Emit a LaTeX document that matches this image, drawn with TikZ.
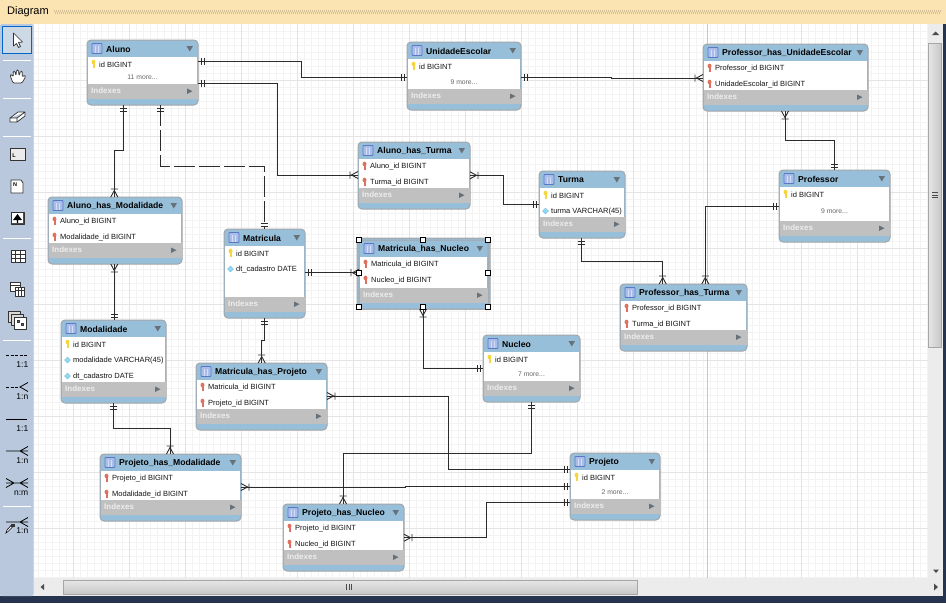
\documentclass[tikz,border=0pt]{standalone}
\usepackage{fontspec}
\setmainfont{Liberation Sans}
\definecolor{hdrblue}{HTML}{98BFD9}
\definecolor{tblborder}{HTML}{A3A6A8}
\definecolor{idxgrey}{HTML}{C0C0C0}
\definecolor{toolbg}{HTML}{B9C8DC}
\definecolor{navy}{HTML}{26344F}
\definecolor{cream}{HTML}{FBE3B2}
\definecolor{gridmin}{HTML}{F3F3F3}
\definecolor{gridmaj}{HTML}{E4E4E4}
\definecolor{barbg}{HTML}{ECECEC}
\definecolor{relc}{HTML}{2B2B2B}
\definecolor{triangle}{HTML}{66717A}
\definecolor{iconfill}{HTML}{A9BDEB}
\definecolor{iconline}{HTML}{5A78C4}
\definecolor{fkred}{HTML}{E0705E}
\definecolor{pkyellow}{HTML}{F5D63C}
\newcommand{\mdots}{...}
\pgfdeclarearrow{name=erOne,
  setup code={\pgfarrowssettipend{0pt}\pgfarrowssetlineend{0pt}\pgfarrowssetbackend{-7pt}\pgfarrowssetvisualbackend{-7pt}},
  drawing code={\pgfsetdash{}{0pt}\pgfsetbuttcap\pgfsetlinewidth{0.9pt}%
    \pgfpathmoveto{\pgfqpoint{-3pt}{-3.5pt}}\pgfpathlineto{\pgfqpoint{-3pt}{3.5pt}}%
    \pgfpathmoveto{\pgfqpoint{-6pt}{-3.5pt}}\pgfpathlineto{\pgfqpoint{-6pt}{3.5pt}}%
    \pgfusepathqstroke}}
\pgfdeclarearrow{name=erMany,
  setup code={\pgfarrowssettipend{0pt}\pgfarrowssetlineend{0pt}\pgfarrowssetbackend{-9pt}\pgfarrowssetvisualbackend{-9pt}},
  drawing code={\pgfsetdash{}{0pt}\pgfsetbuttcap\pgfsetlinewidth{0.9pt}%
    \pgfpathmoveto{\pgfqpoint{-8pt}{-3.5pt}}\pgfpathlineto{\pgfqpoint{-8pt}{3.5pt}}%
    \pgfpathmoveto{\pgfqpoint{0pt}{-3.5pt}}\pgfpathlineto{\pgfqpoint{-6.5pt}{0pt}}\pgfpathlineto{\pgfqpoint{0pt}{3.5pt}}%
    \pgfusepathqstroke}}
\tikzset{
  tablebox/.style={draw=tblborder,fill=hdrblue,line width=1pt,rounded corners=4pt,inner sep=0pt,outer sep=0pt,anchor=north west},
  titletext/.style={font=\fontsize{8.6}{10}\selectfont\bfseries,anchor=west,inner sep=0pt,text=black},
  rowtext/.style={font=\fontsize{7.5}{9}\selectfont,anchor=west,inner sep=0pt,text=black!92},
  moretext/.style={font=\fontsize{6.8}{8}\selectfont,inner sep=0pt,text=black!60},
  idxtext/.style={font=\fontsize{8}{10}\selectfont\bfseries,anchor=west,inner sep=0pt,text=white!93!black},
  rel/.style={draw=relc,line width=1pt,line cap=butt,line join=miter},
  dashrel/.style={rel,dash pattern=on 21pt off 4pt},
  handle/.style={draw=black,fill=white,line width=1pt,inner sep=0pt,minimum size=5.5pt,rectangle,outer sep=0pt},
  tooltext/.style={font=\fontsize{8.5}{10}\selectfont,inner sep=0pt,text=black,anchor=east},
  ico/.style={draw=black!80,line width=0.7pt,line join=round},
}
\newcommand{\keyF}[3]{\fill[#3] (#1,#2-2) circle[x radius=2,y radius=2.3]; \fill[#3] (#1-1,#2-1) rectangle (#1+1,#2+3.5);}
\newcommand{\erkindk}[2]{\keyF{#1}{#2}{pkyellow}}
\newcommand{\erkindf}[2]{\keyF{#1}{#2}{fkred}}
\newcommand{\erkindc}[2]{\fill[cyan!45!white,draw=cyan!45!gray,line width=0.3pt] (#1-3,#2) -- (#1,#2-3) -- (#1+3,#2) -- (#1,#2+3) -- cycle;}
\newcommand{\ertable}[8]{%
  \pgfmathsetmacro\tw{#4-#2}\pgfmathsetmacro\th{#5-#3}\pgfmathsetmacro\tcx{(#2+#4)/2}%
  \node[tablebox,minimum width=\tw pt,minimum height=\th pt] (#1) at (#2,#3) {};
  \fill[white] (#2+1,#3+17) rectangle (#4-1,#5-21);
  \fill[idxgrey] (#2+0.5,#5-21) rectangle (#4-0.5,#5-6);
  \draw[draw=iconline,fill=iconfill,line width=0.8pt,rounded corners=0.8pt] (#2+5,#3+3.5) rectangle (#2+15,#3+13.5);
  \draw[white!75!iconline,line width=0.5pt] (#2+8.3,#3+6) -- (#2+8.3,#3+13) (#2+11.6,#3+6) -- (#2+11.6,#3+13);
  \node[titletext] (#1-title) at (#2+19,#3+9) {#6};
  \fill[triangle] (#4-11.5,#3+6) -- (#4-5,#3+6) -- (#4-8.2,#3+11.5) -- cycle;
  \node[idxtext] (#1-idx) at (#2+4,#5-14) {Indexes};
  \fill[triangle] (#4-11,#5-16.5) -- (#4-5.5,#5-13.8) -- (#4-11,#5-11) -- cycle;
  \foreach \k/\t [count=\n from 0] in {#8} {
    \pgfmathsetmacro\ry{#3+24+#7*\n}
    \if m\k
      \node[moretext,name=#1-r\n] at (\tcx,\ry) {\t};
    \else
      \csname erkind\k\endcsname{#2+6.5}{\ry}
      \node[rowtext,name=#1-r\n] at (#2+12,\ry+0.6) {\t};
    \fi
  }
}
\begin{document}
\begin{tikzpicture}[x=1pt,y=-1pt]
\useasboundingbox (0,0) rectangle (946,603);
% window
\fill[navy] (0,0) rectangle (946,603);
\fill[barbg] (0,24) rectangle (943,596);
\fill[white] (34,24) rectangle (928,578);
\foreach \x in {31,38,...,927} \draw[gridmin,line width=0.8pt] (\x,24) -- (\x,578);
\foreach \y in {31,38,...,577} \draw[gridmin,line width=0.8pt] (34,\y) -- (928,\y);
\foreach \x in {73,129,...,913} \draw[gridmaj,line width=0.9pt] (\x,24) -- (\x,578);
\foreach \y in {80,136,...,577} \draw[gridmaj,line width=0.9pt] (34,\y) -- (928,\y);
\draw[black!22,line width=1pt] (707,24) -- (707,578);
% title bar
\fill[cream] (0,0) rectangle (946,24);
\draw[cream!85!black,line width=1.1pt,dash pattern=on 1pt off 1pt] (54,11) -- (941,11);
\draw[cream!85!black,line width=1.1pt,dash pattern=on 1pt off 1pt,dash phase=1pt] (54,13) -- (941,13);
\node[anchor=west,inner sep=0pt,font=\fontsize{11}{13}\selectfont,text=black] (diagramtitle) at (7,12) {Diagram};
% tool bar
\fill[toolbg,rounded corners=2pt] (0,24) rectangle (33.5,596);
\draw[blue!50!cyan!80!black,fill=toolbg!70!white,line width=1pt] (2.5,26.5) rectangle (31.5,53);
\foreach \y in {60,98,136,238,340,506} \draw[white,line width=1pt] (3,\y) -- (31,\y);
\draw[ico,fill=white] (13.5,33) -- (13.5,46) -- (16.5,43.5) -- (18.5,47.5) -- (20.5,46.5) -- (18.5,42.5) -- (22.5,42) -- cycle;
\draw[ico,fill=white,rounded corners=1.2pt] (13,83) -- (10,75) -- (12,74.5) -- (13.5,77) -- (13,71.5) -- (15,71) -- (16,76) -- (16.5,70) -- (18.5,70) -- (19,76) -- (20.5,71) -- (22.5,71.5) -- (22,77) -- (25,75) -- (25.5,77) -- (22,83) -- cycle;
\draw[ico,fill=white] (10,118) -- (18,112) -- (25,112) -- (25,116) -- (17,122) -- (10,122) -- cycle (10,118) -- (17,118) -- (25,112) (17,118) -- (17,122);
\draw[ico,fill=white!92!black] (10,148) rectangle (25,160);
\draw[ico,fill=white] (11,180) -- (21,180) -- (23,183) -- (23,193) -- (11,193) -- cycle;
\node[inner sep=0pt,font=\fontsize{5.5}{6}\selectfont\bfseries] (iconL) at (14,155.5) {L};
\node[inner sep=0pt,font=\fontsize{5.5}{6}\selectfont\bfseries] (iconN) at (15,185) {N};
\draw[ico,fill=black!70,line width=0.9pt] (11,212) rectangle (24,224);
\fill[white] (11.7,212.7) rectangle (23.3,223.3);
\fill[black] (17.5,214) -- (22,220) -- (18.2,220) -- (18.2,223) -- (16.8,223) -- (16.8,220) -- (13,220) -- cycle;
\draw[ico,fill=white] (11,250) rectangle (25,262) (11,254) -- (25,254) (11,258) -- (25,258) (15.7,250) -- (15.7,262) (20.3,250) -- (20.3,262);
\draw[ico,fill=white] (10,282) rectangle (20,291) (10,285) -- (20,285);
\draw[ico,fill=white] (15,287) rectangle (24,296) (15,290) -- (24,290) (18,287) -- (18,296) (21,287) -- (21,296);
\draw[ico,fill=white!85!black] (8,311) rectangle (20,322);
\draw[ico,fill=white!85!black] (11,314) rectangle (23,325);
\draw[ico,fill=white] (14,317) rectangle (26,329);
\draw[ico,fill=black!60] (17,320) rectangle (19,322) (21,323) rectangle (23,325);
\foreach \lab/\ly/\ty [count=\i] in {1:1/355/365,1:n/387/397,1:1/419/429,1:n/451/461,n:m/483/493,1:n/522/531} {
  \node[tooltext,name=rel\i] at (28.5,\ty) {\lab};
}
\draw[black,line width=0.8pt,dash pattern=on 3pt off 1.5pt] (6,355) -- (27,355);
\draw[black,line width=0.8pt,dash pattern=on 3pt off 1.5pt] (6,387) -- (20,387);
\draw[black,line width=0.8pt] (28,382.5) -- (20,387) -- (28,391.5);
\draw[black,line width=0.8pt] (6,419) -- (27,419);
\draw[black,line width=0.8pt] (6,451) -- (28,451) (28,446.5) -- (20,451) -- (28,455.5);
\draw[black,line width=0.8pt] (6,483) -- (28,483) (28,478.5) -- (20,483) -- (28,487.5) (6,478.5) -- (14,483) -- (6,487.5);
\draw[black,line width=0.8pt] (6,522) -- (28,522) (28,517.5) -- (20,522) -- (28,526.5);
\draw[black,fill=white,line width=0.6pt] (6,533) -- (7,530) -- (11,525.5) -- (12.5,527) -- (8,531.5) -- cycle;
\fill[black!80] (11,524) rectangle (15,527);
% scroll bars
\draw[black!35,top color=white!90!black,bottom color=black!22,line width=0.8pt] (63.5,580.5) rectangle (637,594.5);
\foreach \x in {346.5,349,351.5} \draw[black!70,line width=0.8pt] (\x,584) -- (\x,590);
\fill[black!70] (44,584) -- (44,590) -- (40.5,587) -- cycle;
\fill[black!70] (934,583.5) -- (934,590.5) -- (938,587) -- cycle;
\draw[black!35,left color=white!90!black,right color=black!22,line width=0.8pt] (928.5,43) rectangle (941,347);
\foreach \y in {192.5,195,197.5} \draw[black!70,line width=0.8pt] (932,\y) -- (938,\y);
\fill[black!70] (932,35) -- (939,35) -- (935.5,31.5) -- cycle;
\fill[black!70] (933,569.5) -- (939,569.5) -- (936,573) -- cycle;
% tables
\ertable{Aluno}{87}{40}{198}{105}{Aluno}{13}{k/id BIGINT,m/11 more\mdots}
\ertable{UE}{407}{42}{521}{110}{UnidadeEscolar}{16}{k/id BIGINT,m/9 more\mdots}
\ertable{PUE}{703}{44}{868}{111}{Professor\_has\_UnidadeEscolar}{16}{f/Professor\_id BIGINT,f/UnidadeEscolar\_id BIGINT}
\ertable{AT}{358}{142}{470}{209}{Aluno\_has\_Turma}{16}{f/Aluno\_id BIGINT,f/Turma\_id BIGINT}
\ertable{Turma}{539}{171}{625}{238}{Turma}{16}{k/id BIGINT,c/turma VARCHAR(45)}
\ertable{Prof}{779}{170}{890}{242}{Professor}{17}{k/id BIGINT,m/9 more\mdots}
\ertable{AM}{48}{197}{182}{264}{Aluno\_has\_Modalidade}{16}{f/Aluno\_id BIGINT,f/Modalidade\_id BIGINT}
\ertable{Mat}{224}{229}{305}{318}{Matricula}{16}{k/id BIGINT,c/dt\_cadastro DATE}
\fill[hdrblue,draw=tblborder,line width=1pt,rounded corners=3pt] (357,238) rectangle (490,309);
\ertable{MN}{359}{240}{488}{309}{Matricula\_has\_Nucleo}{16}{f/Matricula\_id BIGINT,f/Nucleo\_id BIGINT}
\ertable{PT}{620}{284}{747}{351}{Professor\_has\_Turma}{16}{f/Professor\_id BIGINT,f/Turma\_id BIGINT}
\ertable{Mod}{61}{320}{166}{403}{Modalidade}{16}{k/id BIGINT,c/modalidade VARCHAR(45),c/dt\_cadastro DATE}
\ertable{Nuc}{483}{335}{580}{402}{Nucleo}{15}{k/id BIGINT,m/7 more\mdots}
\ertable{MP}{196}{363}{327}{430}{Matricula\_has\_Projeto}{16}{f/Matricula\_id BIGINT,f/Projeto\_id BIGINT}
\ertable{PM}{100}{454}{241}{521}{Projeto\_has\_Modalidade}{16}{f/Projeto\_id BIGINT,f/Modalidade\_id BIGINT}
\ertable{Proj}{570}{453}{660}{520}{Projeto}{15}{k/id BIGINT,m/2 more\mdots}
\ertable{PN}{283}{504}{404}{571}{Projeto\_has\_Nucleo}{16}{f/Projeto\_id BIGINT,f/Nucleo\_id BIGINT}
% relationships
\draw[rel,erOne-erOne] (Aluno.east |- 0,61.5) -- (301.7,61.5) -- (301.7,77) -- (UE.west |- 0,77);
\draw[rel,erOne-erMany] (Aluno.east |- 0,83.3) -- (277.3,83.3) -- (277.3,175) -- (AT.west |- 0,175);
\draw[rel,erOne-erMany] (Aluno.south -| 123.3,0) -- (123.3,150.3) -- (114.3,150.3) -- (AM.north -| 114.3,0);
\draw[dashrel,erOne-erOne] (Aluno.south -| 160.3,0) -- (160.3,166.3) -- (264.3,166.3) -- (Mat.north -| 264.3,0);
\draw[rel,erOne-erMany] (UE.east |- 0,77) -- (611,77) -- (611,78) -- (PUE.west |- 0,78);
\draw[rel,erMany-erOne] (AT.east |- 0,175.3) -- (503.7,175.3) -- (503.7,204.3) -- (Turma.west |- 0,204.3);
\draw[rel,erOne-erMany] (Turma.south -| 581.3,0) -- (581.3,261) -- (662.7,261) -- (PT.north -| 662.7,0);
\draw[rel,erOne-erMany] (Prof.west |- 0,206.7) -- (705.3,206.7) -- (PT.north -| 705.3,0);
\draw[rel,erMany-erOne] (PUE.south -| 785,0) -- (785,140.7) -- (834.3,140.7) -- (Prof.north -| 834.3,0);
\draw[rel,erMany-erOne] (AM.south -| 114.3,0) -- (Mod.north -| 114.3,0);
\draw[rel,erOne-erMany] (Mod.south -| 113.3,0) -- (113.3,428.3) -- (170,428.3) -- (PM.north -| 170,0);
\draw[rel,erOne-erMany] (Mat.east |- 0,272.7) -- (MN.west |- 0,272.7);
\draw[rel,erOne-erMany] (Mat.south -| 264.3,0) -- (264.3,340) -- (261.7,340) -- (MP.north -| 261.7,0);
\draw[rel,erMany-erOne] (MN.south -| 423,0) -- (423,368.3) -- (Nuc.west |- 0,368.3);
\draw[rel,erMany-erOne] (MP.east |- 0,396) -- (448.3,396) -- (448.3,469.3) -- (Proj.west |- 0,469.3);
\draw[rel,erMany-erOne] (PM.east |- 0,487) -- (405,487) -- (405,486.5) -- (Proj.west |- 0,486.5);
\draw[rel,erMany-erOne] (PN.east |- 0,537.7) -- (486.7,537.7) -- (486.7,502.7) -- (Proj.west |- 0,502.7);
\draw[rel,erMany-erOne] (PN.north -| 343,0) -- (343,453) -- (531,453) -- (Nuc.south -| 531,0);
% selection handles
\foreach \hx/\hy/\hn in {359/240/a,423/240/b,488/240/c,359/273/d,488/273/e,359/307/f,423/307/g,488/307/h}
  \node[handle,name=sel\hn] at (\hx,\hy) {};
\end{tikzpicture}
\end{document}
